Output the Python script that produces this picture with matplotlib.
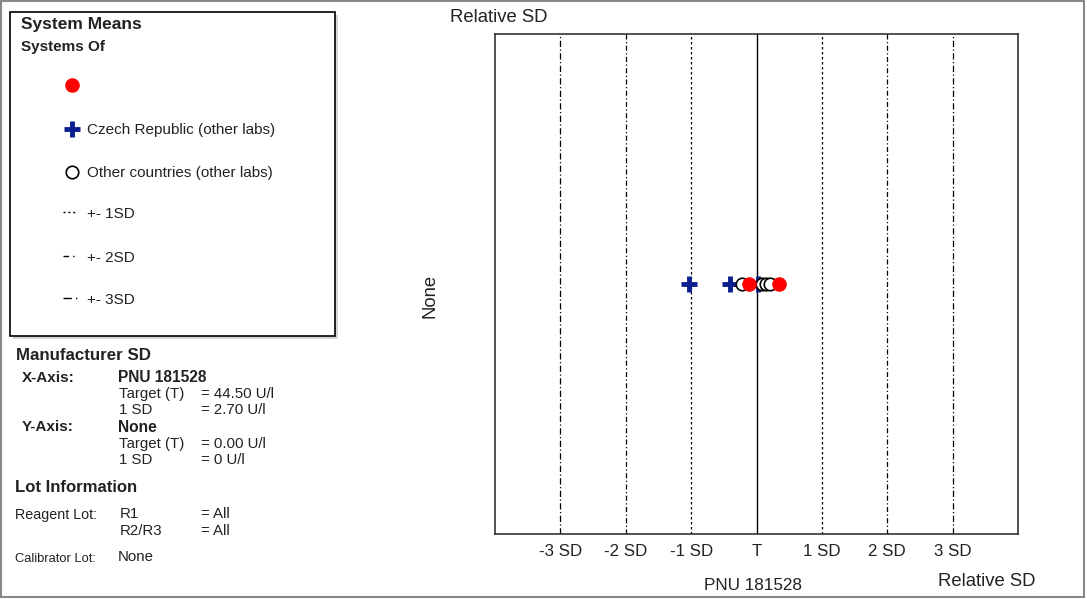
import matplotlib.pyplot as plt
from matplotlib.patches import Rectangle
from matplotlib.lines import Line2D

plt.rcParams['font.family'] = ['Liberation Sans', 'DejaVu Sans']

# data (x in SD units relative to target)
sd_ticks = [-3, -2, -1, 0, 1, 2, 3]
sd_labels = ['-3 SD', '-2 SD', '-1 SD', 'T', '1 SD', '2 SD', '3 SD']
czech_x = [-1.03, -0.41, 0.03]
other_x = [-0.22, 0.08, 0.14, 0.20]
own_x = [-0.12, 0.35]

W, H = 1087, 599
fig = plt.figure(figsize=(W / 100, H / 100), dpi=100)
BLUE = '#0a1f8f'
TXT = '#222222'


def fx(x):
    return x / W


def fy(y):
    return 1 - y / H


# outer frame
fig.patches.append(Rectangle((fx(1), fy(597)), fx(1083), 596 / H, transform=fig.transFigure,
                             fill=False, edgecolor='#888888', linewidth=1.5))

ax = fig.add_axes([fx(495), fy(534), fx(1018) - fx(495), (534 - 34) / H])
ax.set_xlim(-4, 4)
ax.set_ylim(-1, 1)
ax.set_yticks([])
ax.set_xticks(sd_ticks)
ax.set_xticklabels(sd_labels, fontsize=12.2, color=TXT)
ax.tick_params(axis='x', length=0, pad=7)
for s in ax.spines.values():
    s.set_linewidth(1.2)
    s.set_color('#333333')

styles = {1: (0, (2, 2)), 2: (0, (4, 2, 1, 2)), 3: (0, (5, 2, 1, 2))}
for k in [1, 2, 3]:
    for sgn in [-1, 1]:
        ax.axvline(sgn * k, color='black', linewidth=0.9, linestyle=styles[k])
ax.axvline(0, color='black', linewidth=1.0)

ax.plot(czech_x, [0] * len(czech_x), linestyle='none', marker='+', markersize=12,
        color=BLUE, markeredgewidth=3.5, zorder=3)
ax.plot(other_x, [0] * len(other_x), linestyle='none', marker='o', markersize=9,
        markerfacecolor='white', markeredgecolor='black', markeredgewidth=1.2, zorder=4)
ax.plot(own_x, [0] * len(own_x), linestyle='none', marker='o', markersize=10.5,
        color='#ff0000', markeredgewidth=0, zorder=5)

fig.text(fx(499), fy(17), 'Relative SD', ha='center', va='center', fontsize=13.3, color=TXT)
fig.text(fx(753), fy(586), 'PNU 181528', ha='center', va='center', fontsize=12.3, color=TXT)
fig.text(fx(987), fy(581), 'Relative SD', ha='center', va='center', fontsize=13.3, color=TXT)
fig.text(fx(430), fy(296), 'None', ha='center', va='center', fontsize=13.3, rotation=90, color=TXT)

# legend box with shadow
fig.patches.append(Rectangle((fx(13), fy(339)), fx(325), 324 / H, transform=fig.transFigure,
                             facecolor='#bbbbbb', edgecolor='none', alpha=0.6))
fig.patches.append(Rectangle((fx(10), fy(336)), fx(325), 324 / H, transform=fig.transFigure,
                             facecolor='white', edgecolor='black', linewidth=1.2))

fig.text(fx(21), fy(25), 'System Means', fontsize=12.5, fontweight='bold', va='center', color=TXT)
fig.text(fx(21), fy(47), 'Systems Of', fontsize=11, fontweight='bold', va='center', color=TXT)

fig.add_artist(Line2D([fx(72)], [fy(85)], marker='o', markersize=10.5, color='#ff0000',
                      markeredgewidth=0, transform=fig.transFigure))
fig.add_artist(Line2D([fx(72)], [fy(129)], marker='+', markersize=12, color=BLUE,
                      markeredgewidth=3.5, transform=fig.transFigure))
fig.text(fx(87), fy(130), 'Czech Republic (other labs)', fontsize=11, va='center', color=TXT)
fig.add_artist(Line2D([fx(72)], [fy(172)], marker='o', markersize=9, markerfacecolor='white',
                      markeredgecolor='black', markeredgewidth=1.2, transform=fig.transFigure))
fig.text(fx(87), fy(173), 'Other countries (other labs)', fontsize=11, va='center', color=TXT)

leg_lines = [(212, 77, (0, (1.5, 2)), '+- 1SD'), (256, 75, (0, (4, 3, 1, 20)), '+- 2SD'),
             (298, 77, (0, (6, 3, 1, 20)), '+- 3SD')]
for yy, x_end, ls, lab in leg_lines:
    fig.add_artist(Line2D([fx(63), fx(x_end)], [fy(yy), fy(yy)], color='black', linewidth=1,
                          linestyle=ls, transform=fig.transFigure))
    fig.text(fx(87), fy(yy + 2), lab, fontsize=11, va='center', color=TXT)

# manufacturer SD block
fig.text(fx(16), fy(355), 'Manufacturer SD', fontsize=12.2, fontweight='bold', va='center', color=TXT)
fig.text(fx(22), fy(378), 'X-Axis:', fontsize=11, fontweight='bold', va='center', color=TXT)
fig.text(fx(118), fy(378), 'PNU 181528', fontsize=11.2, fontweight='bold', va='center', color=TXT)
fig.text(fx(119), fy(394), 'Target (T)', fontsize=10.8, va='center', color=TXT)
fig.text(fx(201), fy(394), '= 44.50 U/l', fontsize=10.8, va='center', color=TXT)
fig.text(fx(119), fy(410), '1 SD', fontsize=10.8, va='center', color=TXT)
fig.text(fx(201), fy(410), '= 2.70 U/l', fontsize=10.8, va='center', color=TXT)
fig.text(fx(22), fy(427), 'Y-Axis:', fontsize=11, fontweight='bold', va='center', color=TXT)
fig.text(fx(118), fy(427), 'None', fontsize=11.2, fontweight='bold', va='center', color=TXT)
fig.text(fx(119), fy(444), 'Target (T)', fontsize=10.8, va='center', color=TXT)
fig.text(fx(201), fy(444), '= 0.00 U/l', fontsize=10.8, va='center', color=TXT)
fig.text(fx(119), fy(460), '1 SD', fontsize=10.8, va='center', color=TXT)
fig.text(fx(201), fy(460), '= 0 U/l', fontsize=10.8, va='center', color=TXT)

fig.text(fx(15), fy(488), 'Lot Information', fontsize=12.1, fontweight='bold', va='center', color=TXT)
fig.text(fx(15), fy(515), 'Reagent Lot:', fontsize=10.3, va='center', color=TXT)
fig.text(fx(120), fy(514), 'R1', fontsize=10.8, va='center', color=TXT)
fig.text(fx(201), fy(514), '= All', fontsize=10.8, va='center', color=TXT)
fig.text(fx(120), fy(531), 'R2/R3', fontsize=10.8, va='center', color=TXT)
fig.text(fx(201), fy(531), '= All', fontsize=10.8, va='center', color=TXT)
fig.text(fx(15), fy(559), 'Calibrator Lot:', fontsize=9.3, va='center', color=TXT)
fig.text(fx(118), fy(557), 'None', fontsize=10.8, va='center', color=TXT)

fig.savefig('out.png', dpi=100)
